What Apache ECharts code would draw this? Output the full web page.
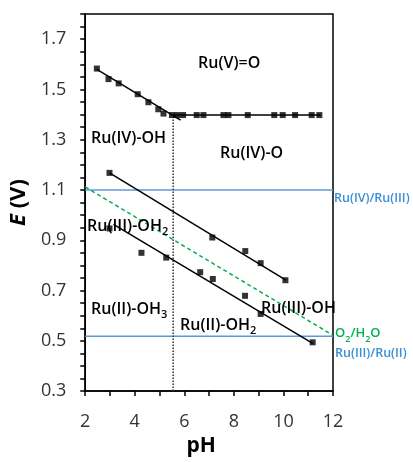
<!DOCTYPE html>
<html>
<head>
<meta charset="utf-8">
<script src="https://cdn.jsdelivr.net/npm/echarts@6/dist/echarts.min.js"></script>
<style>
  html, body { margin: 0; padding: 0; background: #fff; }
  #chart { width: 413px; height: 462px; }
</style>
</head>
<body>
<div id="chart"></div>
<script>
// Pourbaix-type diagram: E (V) vs pH for the Ru(V)/Ru(IV)/Ru(III)/Ru(II) couples

// Ru(V)/Ru(IV) measured potentials
const phVIV = [2.47, 2.94, 3.35, 4.12, 4.55, 4.95, 5.16, 5.5, 5.72, 5.95, 6.50, 6.77, 7.58, 7.78, 8.56, 9.63, 9.97, 10.47, 11.14, 11.45];
const eVIV  = [1.583, 1.541, 1.524, 1.481, 1.449, 1.421, 1.404, 1.398, 1.398, 1.398, 1.398, 1.398, 1.398, 1.398, 1.398, 1.398, 1.398, 1.398, 1.398, 1.398];

// Ru(IV)/Ru(III) measured potentials
const phIVIII = [2.98, 7.13, 8.46, 9.08, 10.08];
const eIVIII  = [1.168, 0.911, 0.857, 0.809, 0.741];

// Ru(III)/Ru(II) measured potentials
const phIIIII = [2.98, 4.27, 5.27, 6.64, 7.15, 8.45, 9.08, 11.18];
const eIIIII  = [0.947, 0.850, 0.831, 0.773, 0.746, 0.679, 0.607, 0.494];

// Fitted segments (pH, E)
const fitVIV_acid = [[2.47, 1.580], [5.85, 1.378]];
const fitVIV_base = [[5.55, 1.398], [11.5, 1.398]];
const fitIVIII    = [[2.98, 1.168], [10.1, 0.741]];
const fitIIIII    = [[3.14, 0.963], [11.18, 0.490]];
const o2h2o       = [[2.0, 1.112], [12.0, 0.522]];
const pKaLine     = [[5.55, 0.3], [5.55, 1.39]];

// Reference potentials (horizontal)
const refIVIII = 1.10;
const refIIIII = 0.518;

const xTickLabels = [2, 4, 6, 8, 10, 12];
const yTickLabels = [0.3, 0.5, 0.7, 0.9, 1.1, 1.3, 1.5, 1.7];

const zip = (xs, ys) => xs.map((x, i) => [x, ys[i]]);

const chart = echarts.init(document.getElementById('chart'));

const FONT = '"Open Sans", "Noto Sans", sans-serif';
const BLUE_LINE = '#5B9BD5';
const BLUE_TEXT = '#3A8FD6';
const GREEN = '#00B050';

const black = { color: '#000', width: 1.5 };

function seg(data, style) {
  return { type: 'line', data: data, symbol: 'none', silent: true, lineStyle: style, z: 3 };
}
function pts(data) {
  return { type: 'scatter', data: data, symbol: 'rect', symbolSize: 6, itemStyle: { color: '#000' }, z: 4 };
}

const richMain = (size, color) => ({
  m: { fontFamily: FONT, fontSize: size, fontWeight: 600, fill: color, color: color, lineHeight: 22, verticalAlign: 'middle' },
  s: { fontFamily: FONT, fontSize: Math.round(size * 0.66), fontWeight: 600, fill: color, color: color, lineHeight: 12, verticalAlign: 'bottom' }
});

function label(x, y, text, size, color) {
  return {
    type: 'text', x: x, y: y, z: 10,
    style: {
      text: text,
      rich: richMain(size, color),
      font: '600 ' + size + 'px ' + FONT,
      fill: color,
      align: 'left',
      verticalAlign: 'middle'
    }
  };
}

const option = {
  backgroundColor: '#fff',
  animation: false,
  grid: { left: 85, right: 80, top: 14, bottom: 55, show: true, borderColor: '#000', borderWidth: 1.5 },
  xAxis: {
    type: 'value', min: 2, max: 12, interval: 1,
    name: 'pH', nameLocation: 'middle', nameGap: 35,
    nameTextStyle: { fontFamily: FONT, fontSize: 21, fontWeight: 'bold', color: '#000', padding: [0, 16, 0, 0] },
    axisLine: { lineStyle: { color: '#000', width: 1.5 } },
    axisTick: { show: true, length: 5, lineStyle: { color: '#000', width: 1.5 } },
    axisLabel: {
      fontFamily: FONT, fontSize: 18, color: '#333', margin: 22,
      formatter: v => (xTickLabels.indexOf(Math.round(v)) >= 0 && Math.abs(v - Math.round(v)) < 1e-6) ? String(Math.round(v)) : ''
    },
    splitLine: { show: false }
  },
  yAxis: {
    type: 'value', min: 0.3, max: 1.8, interval: 0.05,
    name: '{i|E} (V)', nameLocation: 'middle', nameGap: 52, nameRotate: 90,
    nameTextStyle: {
      fontFamily: FONT, fontSize: 22, fontWeight: 'bold', color: '#000',
      rich: { i: { fontFamily: FONT, fontSize: 22, fontWeight: 'bold', fontStyle: 'italic', color: '#000' } }
    },
    axisLine: { lineStyle: { color: '#000', width: 1.5 } },
    axisTick: { show: true, length: 5, lineStyle: { color: '#000', width: 1.5 } },
    axisLabel: {
      fontFamily: FONT, fontSize: 18, color: '#333', margin: 19,
      formatter: v => {
        const k = Math.round(v * 100);
        return yTickLabels.some(t => Math.round(t * 100) === k) ? v.toFixed(1) : '';
      }
    },
    splitLine: { show: false }
  },
  series: [
    seg([[2, refIVIII], [12, refIVIII]], { color: BLUE_LINE, width: 1.5 }),
    seg([[2, refIIIII], [12, refIIIII]], { color: BLUE_LINE, width: 1.5 }),
    seg(o2h2o, { color: GREEN, width: 1.5, type: [4, 3] }),
    seg(pKaLine, { color: '#333', width: 1.5, type: [1.5, 1.5] }),
    seg(fitVIV_acid, black),
    seg(fitVIV_base, black),
    seg(fitIVIII, black),
    seg(fitIIIII, black),
    pts(zip(phVIV, eVIV)),
    pts(zip(phIVIII, eIVIII)),
    pts(zip(phIIIII, eIIIII))
  ],
  graphic: [
    label(198, 63, '{m|Ru(V)=O}', 16, '#000'),
    label(91, 138, '{m|Ru(IV)-OH}', 16, '#000'),
    label(220, 153, '{m|Ru(IV)-O}', 16, '#000'),
    label(87, 226, '{m|Ru(III)-OH}{s|2}', 16, '#000'),
    label(91, 309, '{m|Ru(II)-OH}{s|3}', 16, '#000'),
    label(180, 325, '{m|Ru(II)-OH}{s|2}', 16, '#000'),
    label(261, 308, '{m|Ru(III)-OH}', 16, '#000'),
    label(335, 333, '{m|O}{s|2}{m|/H}{s|2}{m|O}', 13, GREEN),
    label(334, 198, '{m|Ru(IV)/Ru(III)}', 12.5, BLUE_TEXT),
    label(335, 353, '{m|Ru(III)/Ru(II)}', 12.5, BLUE_TEXT)
  ]
};

chart.setOption(option);
</script>
</body>
</html>
